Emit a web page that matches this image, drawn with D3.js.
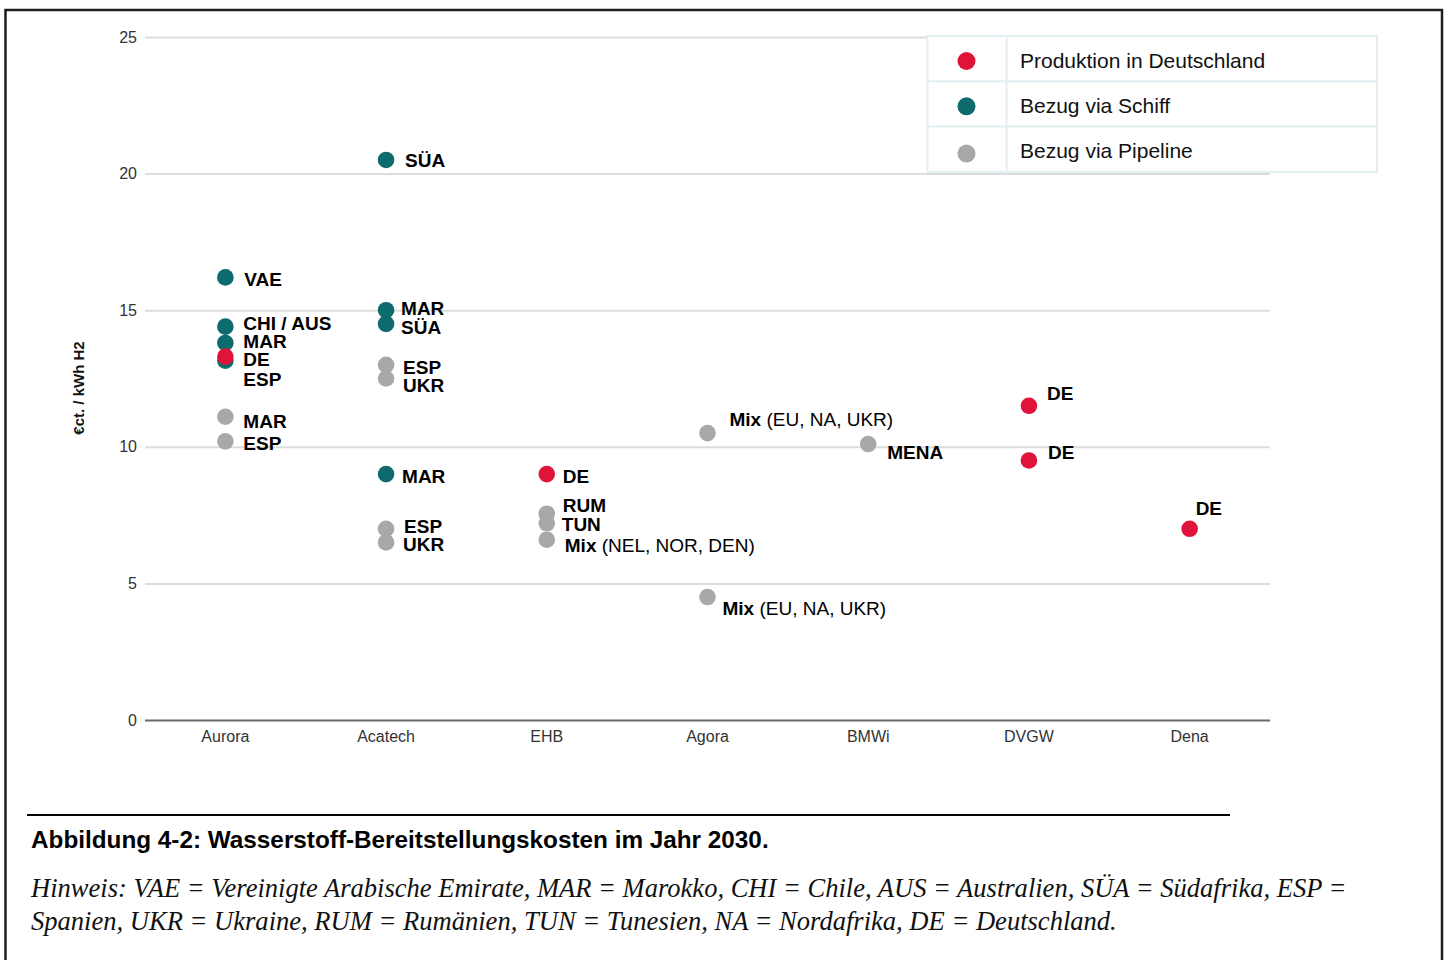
<!DOCTYPE html>
<html><head><meta charset="utf-8">
<script src="https://cdn.jsdelivr.net/npm/d3@7"></script>
<style>
html,body{margin:0;padding:0;background:#fff;}
svg{display:block;}
</style></head>
<body>
<svg id="chart" width="1450" height="960"></svg>
<script>
// ---------- DATA ----------
const categories = ["Aurora","Acatech","EHB","Agora","BMWi","DVGW","Dena"];
const seriesNames = ["Produktion in Deutschland","Bezug via Schiff","Bezug via Pipeline"];
const yTicks = [0,5,10,15,20,25];
const yAxisTitle = "€ct. / kWh H2";
// points: study, series index (0 = DE production, 1 = ship, 2 = pipeline), value, label, note
const pointStudy  = ["Aurora","Aurora","Aurora","Aurora","Aurora","Aurora","Aurora",
                     "Acatech","Acatech","Acatech","Acatech","Acatech","Acatech","Acatech","Acatech",
                     "EHB","EHB","EHB","EHB","Agora","Agora","BMWi","DVGW","DVGW","Dena"];
const pointSeries = [1,1,1,1,0,2,2, 1,1,1,2,2,1,2,2, 0,2,2,2, 2,2, 2, 0,0, 0];
const pointValue  = [16.2,14.4,13.8,13.15,13.3,11.1,10.2,
                     20.5,15.0,14.5,13.0,12.5,9.0,7.0,6.5,
                     9.0,7.55,7.2,6.6, 10.5,4.5, 10.1, 11.5,9.5, 7.0];
const pointLabel  = ["VAE","CHI / AUS","MAR","ESP","DE","MAR","ESP",
                     "SÜA","MAR","SÜA","ESP","UKR","MAR","ESP","UKR",
                     "DE","RUM","TUN","Mix","Mix","Mix","MENA","DE","DE","DE"];
const pointNote   = ["","","","","","","",
                     "","","","","","","","",
                     "","","","(NEL, NOR, DEN)","(EU, NA, UKR)","(EU, NA, UKR)","","","",""];
const captionTitle = "Abbildung 4-2: Wasserstoff-Bereitstellungskosten im Jahr 2030.";
const captionNote = ["Hinweis: VAE = Vereinigte Arabische Emirate, MAR = Marokko, CHI = Chile, AUS = Australien, SÜA = Südafrika, ESP =",
                     "Spanien, UKR = Ukraine, RUM = Rumänien, TUN = Tunesien, NA = Nordafrika, DE = Deutschland."];

// ---------- LAYOUT / STYLE ----------
const seriesColors = ["#e0143a","#0d6a6d","#a8a8a8"];
// label offsets relative to each dot (layout only)
const labelOffsets = [[19,2],[18,-4],[18,-2],[18,18],[18,2],[18,4],[18,2],
                      [19,0],[15,-2],[15,3],[17,2],[17,6],[16,2],[18,-3],[17,2],
                      [16,2],[16,-9],[15,1],[18,5],[22,-14],[15,11],[19,8],[18,-13],[19,-8],[6,-21]];
const sans = "'Liberation Sans', Arial, Helvetica, sans-serif";

const svg = d3.select("#chart");

// outer frame
svg.append("rect").attr("x",5.5).attr("y",10).attr("width",1436.5).attr("height",980)
  .attr("fill","none").attr("stroke","#1e1e1e").attr("stroke-width",2.5);

const x = d3.scaleBand().domain(categories).range([145,1270]);
const y = d3.scaleLinear().domain([0,25]).range([720,37]);
const cx = c => x(c) + x.bandwidth()/2;

// y axis with gridlines
const gy = svg.append("g").attr("transform","translate(145,0)")
  .call(d3.axisLeft(y).tickValues(yTicks).tickSize(-(1270-145)).tickPadding(8).tickFormat(d3.format("d")));
gy.select(".domain").remove();
gy.selectAll(".tick line").attr("stroke", d => d === 0 ? "#6a6a6a" : "#dddddd").attr("stroke-width",2);
gy.selectAll(".tick text").attr("font-family",sans).attr("font-size",16).attr("fill","#333");

// x axis
const gx = svg.append("g").attr("transform","translate(0,720)")
  .call(d3.axisBottom(x).tickSize(0).tickPadding(11));
gx.select(".domain").remove();
gx.selectAll(".tick text").attr("font-family",sans).attr("font-size",16).attr("fill","#333");

// y axis title
svg.append("text").attr("transform","translate(78,388) rotate(-90)")
  .attr("text-anchor","middle").attr("dominant-baseline","central")
  .attr("font-family",sans).attr("font-weight","bold").attr("font-size",15).attr("fill","#111")
  .text(yAxisTitle);

// points
const points = pointStudy.map((s,i) => ({s, k:pointSeries[i], v:pointValue[i], label:pointLabel[i], note:pointNote[i], off:labelOffsets[i]}));
const drawOrder = [1,2,0];
const dots = svg.append("g");
drawOrder.forEach(k => {
  dots.selectAll(null).data(points.filter(p => p.k === k)).enter().append("circle")
    .attr("cx", p => cx(p.s)).attr("cy", p => y(p.v)).attr("r",8.3)
    .attr("fill", seriesColors[k]);
});

// labels
const lab = svg.append("g").selectAll("text").data(points).enter().append("text")
  .attr("x", p => cx(p.s) + p.off[0]).attr("y", p => y(p.v) + p.off[1])
  .attr("dominant-baseline","central")
  .attr("font-family",sans).attr("font-size",19).attr("fill","#000");
lab.append("tspan").attr("font-weight","bold").text(p => p.label);
lab.filter(p => p.note).append("tspan").attr("font-weight","normal").text(p => " " + p.note);

// legend table
const lg = svg.append("g");
const lgTop = 36, lgRow = 45.3, lgLeft = 927.5, lgRight = 1377, lgDiv = 1006.5;
lg.append("rect").attr("x",lgLeft).attr("y",lgTop).attr("width",lgRight-lgLeft).attr("height",lgRow*3)
  .attr("fill","#fff").attr("stroke","#e2eef2").attr("stroke-width",2);
seriesNames.forEach((n,i) => {
  if (i > 0) lg.append("line").attr("x1",lgLeft).attr("x2",lgRight)
    .attr("y1",lgTop+lgRow*i).attr("y2",lgTop+lgRow*i).attr("stroke","#e2eef2").attr("stroke-width",2);
  lg.append("circle").attr("cx",966.5).attr("cy",lgTop + lgRow*i + 25 + (i===2?2:0)).attr("r",9).attr("fill",seriesColors[i]);
  lg.append("text").attr("x",1020).attr("y",lgTop + lgRow*i + 24).attr("dominant-baseline","central")
    .attr("font-family",sans).attr("font-size",21).attr("fill","#111").text(n);
});
lg.append("line").attr("x1",lgDiv).attr("x2",lgDiv).attr("y1",lgTop).attr("y2",lgTop+lgRow*3)
  .attr("stroke","#e2eef2").attr("stroke-width",2);

// caption
svg.append("line").attr("x1",27).attr("x2",1230).attr("y1",815).attr("y2",815)
  .attr("stroke","#000").attr("stroke-width",2);
function fitWidth(sel, target){
  const w = sel.node().getComputedTextLength();
  const fs = parseFloat(sel.attr("font-size"));
  sel.attr("font-size", (fs*target/w).toFixed(2));
}
const ct = svg.append("text").attr("x",31).attr("y",848)
  .attr("font-family",sans).attr("font-weight","bold").attr("font-size",22).attr("fill","#000")
  .text(captionTitle);
fitWidth(ct, 738);
const noteWidths = [1316, 1086];
const noteY = [897, 930];
captionNote.forEach((t,i) => {
  const s = svg.append("text").attr("x",31).attr("y",noteY[i])
    .attr("font-family","'Liberation Serif', 'Times New Roman', serif").attr("font-style","italic")
    .attr("font-size",24).attr("fill","#111").text(t);
  fitWidth(s, noteWidths[i]);
});
</script>
</body></html>
